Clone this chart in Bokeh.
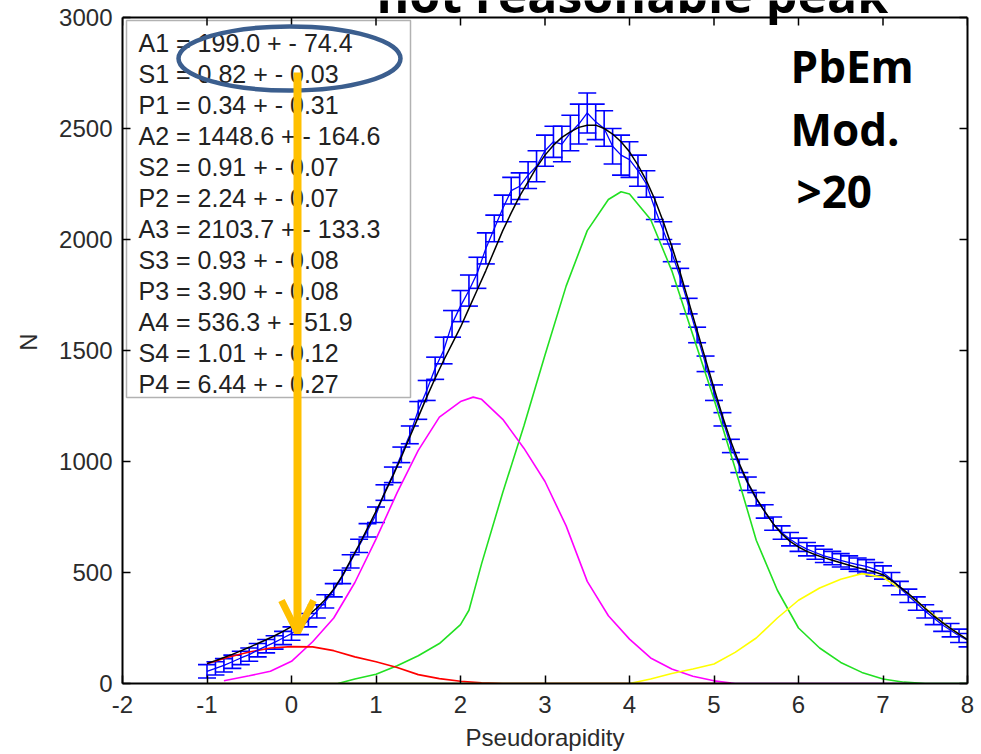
from bokeh.plotting import figure
from bokeh.models import (Range1d, LinearAxis, Whisker, ColumnDataSource, Arrow, Span,
                          OpenHead, FixedTicker, TeeHead, BoxAnnotation)
from bokeh.embed import file_html
from bokeh.resources import INLINE
from bokeh.core.properties import value

# ---------------- data ----------------
eta = [-1.0, -0.9, -0.8, -0.7, -0.6, -0.5, -0.4, -0.3, -0.2, -0.1,
       0.0, 0.1, 0.2, 0.3, 0.4, 0.5, 0.6, 0.7, 0.8, 0.9,
       1.0, 1.1, 1.2, 1.3, 1.4, 1.5, 1.6, 1.7, 1.8, 1.9,
       2.0, 2.1, 2.2, 2.3, 2.4, 2.5, 2.6, 2.7, 2.8, 2.9,
       3.0, 3.1, 3.2, 3.3, 3.4, 3.5, 3.6, 3.7, 3.8, 3.9,
       4.0, 4.1, 4.2, 4.3, 4.4, 4.5, 4.6, 4.7, 4.8, 4.9,
       5.0, 5.1, 5.2, 5.3, 5.4, 5.5, 5.6, 5.7, 5.8, 5.9,
       6.0, 6.1, 6.2, 6.3, 6.4, 6.5, 6.6, 6.7, 6.8, 6.9,
       7.0, 7.1, 7.2, 7.3, 7.4, 7.5, 7.6, 7.7, 7.8, 7.9, 8.0]

counts = [55, 68, 82, 98, 115, 130, 150, 168, 185, 205,
          225, 250, 285, 325, 370, 420, 480, 550, 620, 690,
          760, 860, 940, 1030, 1120, 1230, 1320, 1420, 1500, 1620,
          1700, 1770, 1850, 1960, 2050, 2140, 2220, 2240, 2290, 2330,
          2400, 2440, 2430, 2480, 2520, 2570, 2530, 2500, 2420, 2380,
          2360, 2310, 2250, 2140, 2040, 1940, 1830, 1700, 1570, 1440,
          1310, 1190, 1070, 980, 900, 830, 775, 720, 680, 650,
          625, 605, 590, 575, 565, 555, 545, 535, 528, 515,
          500, 470, 430, 395, 360, 325, 295, 265, 240, 215, 195]

errors = [30, 30, 30, 30, 30, 30, 30, 30, 30, 30,
          30, 30, 30, 30, 30, 30, 30, 30, 30, 30,
          35, 35, 35, 35, 40, 40, 45, 50, 60, 60,
          70, 70, 70, 70, 60, 60, 60, 60, 60, 70,
          70, 70, 80, 80, 90, 90, 80, 80, 80, 90,
          80, 70, 60, 50, 40, 40, 40, 35, 35, 35,
          35, 30, 30, 30, 30, 30, 30, 30, 30, 30,
          30, 30, 30, 30, 30, 30, 30, 30, 30, 30,
          30, 30, 30, 30, 30, 30, 30, 30, 30, 30, 30]

fit_total = [90, 103, 117, 131, 147, 163, 180, 197, 215, 235,
             256, 280, 308, 340, 378, 425, 485, 555, 625, 700,
             775, 855, 935, 1020, 1110, 1200, 1290, 1375, 1455, 1530,
             1605, 1690, 1775, 1860, 1950, 2040, 2120, 2195, 2260, 2325,
             2380, 2425, 2460, 2485, 2505, 2515, 2515, 2500, 2475, 2440,
             2395, 2335, 2265, 2180, 2080, 1970, 1850, 1720, 1590, 1460,
             1330, 1205, 1090, 990, 905, 835, 775, 720, 675, 640,
             615, 595, 580, 567, 555, 544, 533, 522, 512, 502,
             490, 465, 435, 405, 372, 338, 305, 275, 248, 222, 198]

red_x = [-1.0, -0.75, -0.5, -0.25, 0.0, 0.25, 0.5, 0.75, 1.0, 1.25, 1.5, 1.75, 2.0, 2.25, 2.5, 3.0, 4.0, 5.0, 5.2]
red_y = [89, 118, 142, 160, 166, 165, 148, 120, 98, 72, 40, 22, 10, 3, 0, 0, 0, 0, 0]

mag_x = [-0.8, -0.5, -0.25, 0.0, 0.25, 0.5, 0.75, 1.0, 1.25, 1.5, 1.75, 2.0, 2.15, 2.25, 2.5,
         2.75, 3.0, 3.25, 3.5, 3.75, 4.0, 4.25, 4.5, 4.75, 5.0, 5.25, 6.0, 7.0, 7.3]
mag_y = [12, 35, 55, 100, 188, 295, 455, 650, 860, 1050, 1200, 1270, 1290, 1280, 1190,
         1060, 910, 710, 460, 305, 200, 115, 65, 33, 12, 0, 0, 0, 0]

green_x = [0.55, 0.75, 1.0, 1.25, 1.5, 1.75, 2.0, 2.1, 2.25, 2.5, 2.75, 3.0, 3.25, 3.5, 3.75, 3.9,
           4.0, 4.25, 4.5, 4.75, 5.0, 5.25, 5.5, 5.75, 6.0, 6.25, 6.5, 6.75, 7.0, 7.25, 7.5, 8.0]
green_y = [0, 20, 42, 80, 125, 180, 265, 330, 540, 860, 1160, 1480, 1790, 2040, 2180, 2215,
           2205, 2090, 1860, 1570, 1280, 970, 645, 420, 250, 160, 95, 50, 20, 6, 0, 0]

yel_x = [-1.0, 0.0, 1.0, 2.0, 3.0, 4.0, 4.25, 4.5, 4.75, 5.0, 5.25, 5.5, 5.75, 6.0,
         6.25, 6.5, 6.75, 7.0, 7.25, 7.5, 7.75, 8.0]
yel_y = [0, 0, 0, 0, 0, 0, 20, 45, 65, 88, 140, 205, 295, 375,
         430, 470, 495, 478, 415, 340, 262, 195]

x_ticks = [-2, -1, 0, 1, 2, 3, 4, 5, 6, 7, 8]
x_tick_labels = {-2: "-2", -1: "-1"}
y_ticks = [0, 500, 1000, 1500, 2000, 2500, 3000]

fit_lines = ["A1 = 199.0 + - 74.4", "S1 = 0.82 + - 0.03", "P1 = 0.34 + - 0.31",
             "A2 = 1448.6 + - 164.6", "S2 = 0.91 + - 0.07", "P2 = 2.24 + - 0.07",
             "A3 = 2103.7 + - 133.3", "S3 = 0.93 + - 0.08", "P3 = 3.90 + - 0.08",
             "A4 = 536.3 + - 51.9", "S4 = 1.01 + - 0.12", "P4 = 6.44 + - 0.27"]
side_notes = ["PbEm", "Mod.", ">20"]
headline = ["not reasonable peak"]

# ---------------- layout ----------------
W, H = 981, 754
FL, FR, FT, FB = 122, 967, 17, 683     # axes box edges in pixels
X0, X1, Y0, Y1 = -2, 8, 0, 3000


def px2x(px):
    return X0 + (px - FL) / (FR - FL) * (X1 - X0)


def px2y(py):
    return Y0 + (FB - py) / (FB - FT) * (Y1 - Y0)


# the plotting frame reaches the top of the picture so that the cut-off
# headline can be drawn; the axes box itself ends at y = 3000
p = figure(width=W, height=H, x_range=Range1d(X0, X1), y_range=Range1d(Y0, px2y(0)),
           output_backend="svg", toolbar_location=None,
           min_border_left=FL, min_border_right=W - FR, min_border_top=0,
           min_border_bottom=H - FB)
p.grid.visible = False
p.outline_line_color = None
p.background_fill_color = "white"
p.border_fill_color = "white"

FONT = "Liberation Sans"
TICK_COLOR = "#2b2b2b"

p.xaxis.ticker = FixedTicker(ticks=x_ticks)
p.xaxis.major_label_overrides = x_tick_labels
p.yaxis.ticker = FixedTicker(ticks=y_ticks)
p.yaxis.bounds = (Y0, Y1)
for ax in [p.xaxis[0], p.yaxis[0]]:
    ax.major_tick_in = 8
    ax.major_tick_out = 0
    ax.minor_tick_line_color = None
    ax.axis_line_width = 2
    ax.major_tick_line_width = 1.5
    ax.major_label_text_font = FONT
    ax.major_label_text_font_size = "24px"
    ax.major_label_text_color = TICK_COLOR
    ax.axis_label_text_font = FONT
    ax.axis_label_text_font_size = "24px"
    ax.axis_label_text_font_style = "normal"
    ax.axis_label_text_color = TICK_COLOR
p.xaxis.axis_label = "Pseudorapidity"
p.yaxis.axis_label = "N"
p.xaxis.major_label_standoff = 12
p.xaxis.axis_label_standoff = 8
p.yaxis.major_label_standoff = 10
p.yaxis.axis_label_standoff = 14

rax = LinearAxis(ticker=FixedTicker(ticks=y_ticks), bounds=(Y0, Y1))
rax.major_tick_in = 8
rax.major_tick_out = 0
rax.minor_tick_line_color = None
rax.axis_line_width = 2
rax.major_tick_line_width = 1.5
rax.major_label_text_font_size = "1px"
rax.major_label_text_alpha = 0
rax.major_label_standoff = 0
p.add_layout(rax, "right")

# top edge of the axes box with inward ticks
p.add_layout(Span(location=Y1, dimension="width", line_color="black", line_width=2))
p.segment(x0=x_ticks, y0=[Y1] * len(x_ticks), x1=x_ticks,
          y1=[px2y(FT + 8)] * len(x_ticks), line_color="black", line_width=1.5)

# ---------------- curves ----------------
LW = 1.6
p.line(green_x, green_y, line_color="#22e022", line_width=LW)
p.line(mag_x, mag_y, line_color="#ff00ff", line_width=LW)
p.line(red_x, red_y, line_color="#ff0000", line_width=LW)
p.line(yel_x, yel_y, line_color="#ffff00", line_width=LW)

lower = [c - e for c, e in zip(counts, errors)]
upper = [c + e for c, e in zip(counts, errors)]
src = ColumnDataSource(data=dict(x=eta, y=counts, lower=lower, upper=upper))
p.line("x", "y", source=src, line_color="#0000ff", line_width=1.3)
whisk = Whisker(source=src, base="x", lower="lower", upper="upper", dimension="height",
                line_color="#0000ff", line_width=1.6,
                lower_head=TeeHead(size=18, line_color="#0000ff", line_width=1.6),
                upper_head=TeeHead(size=18, line_color="#0000ff", line_width=1.6))
p.add_layout(whisk)
p.line(eta, fit_total, line_color="black", line_width=1.5)

# ---------------- fit parameter box ----------------
box = BoxAnnotation(left=px2x(126), right=px2x(410), top=px2y(20), bottom=px2y(397),
                    fill_color="white", fill_alpha=1.0, line_color="black", line_width=1.5,
                    level="underlay")
p.add_layout(box)
line_y = [px2y(42 + 31 * i) for i in range(len(fit_lines))]
p.text(x=[px2x(138)] * len(fit_lines), y=line_y, text=fit_lines,
       text_font=value(FONT), text_font_size="25px", text_color="#222222",
       text_baseline="middle", text_align="left")

# ---------------- annotations ----------------
p.ellipse(x=[px2x(289)], y=[px2y(58)], width=222, height=64, width_units="screen",
          height_units="screen", fill_color=None, line_color="#3b5e8e", line_width=4.5)

p.add_layout(Arrow(end=OpenHead(size=32, line_color="#ffc000", line_width=7),
                   x_start=px2x(297), y_start=px2y(72), x_end=px2x(297), y_end=px2y(632),
                   line_color="#ffc000", line_width=8))

BIG = "Open Sans"
p.text(x=[px2x(790), px2x(790), px2x(796)], y=[px2y(65), px2y(128), px2y(190)],
       text=side_notes, text_font=value(BIG), text_font_size="44px",
       text_font_style="bold", text_color="black",
       text_baseline="middle", text_align="left")

# the headline runs off the top of the picture: only its lower part shows
p.text(x=[px2x(376)], y=[px2y(-7)], text=headline, text_font=value(BIG),
       text_font_size="50px", text_font_style="bold", text_color="black",
       text_baseline="middle", text_align="left")

open("out.html", "w").write(file_html(p, INLINE))
